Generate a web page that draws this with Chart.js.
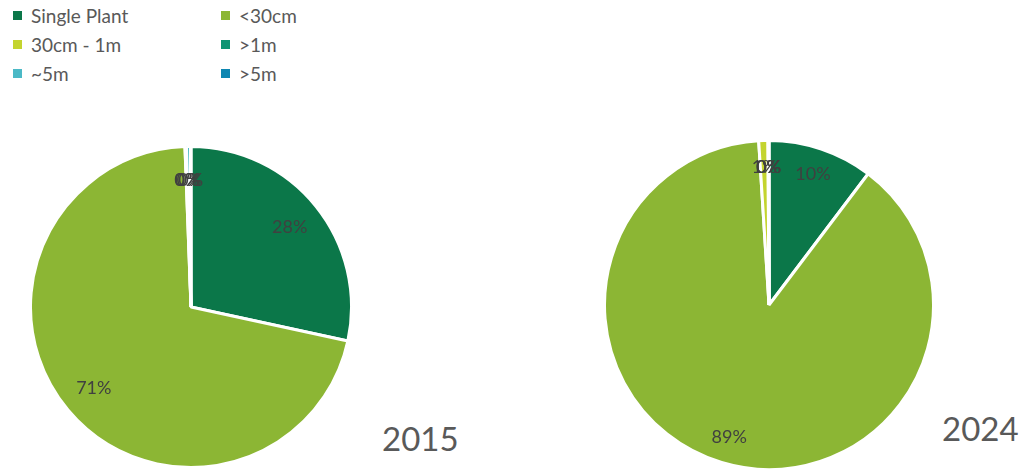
<!DOCTYPE html>
<html>
<head>
<meta charset="utf-8">
<script src="https://cdn.jsdelivr.net/npm/chart.js@4"></script>
<style>
  body { margin: 0; background: #fff; width: 1024px; height: 470px; overflow: hidden; position: relative; font-family: Lato, "Open Sans", sans-serif; }
  #legend { position: absolute; left: 11px; top: 4px; display: grid; grid-template-columns: 208px 120px; row-gap: 7px; }
  .item { display: flex; align-items: center; font-size: 19px; color: #595959; height: 22px; }
  .box { width: 9px; height: 9px; margin-right: 9px; margin-left: 2px; }
  .wrap { position: absolute; }
  .year { position: absolute; font-size: 33px; color: #595959; }
</style>
</head>
<body>
<div id="legend"></div>
<div class="wrap" style="left:29px; top:145px; width:324px; height:324px;"><canvas id="pie2015"></canvas></div>
<div class="wrap" style="left:603px; top:139px; width:332px; height:332px;"><canvas id="pie2024"></canvas></div>
<div class="year" style="left:382px; top:418px;">2015</div>
<div class="year" style="left:942px; top:408px;">2024</div>
<script>
const categories = ["Single Plant", "<30cm", "30cm - 1m", ">1m", "~5m", ">5m"];
const colours = ["#0B7749", "#8CB634", "#C4D42F", "#0E9473", "#4BB9C6", "#0E86B1"];
const values_2015 = [28.4, 71.0, 0.1, 0.05, 0.4, 0.05];
const values_2024 = [10.3, 88.7, 0.9, 0.05, 0.03, 0.02];

const legend = document.getElementById("legend");
categories.forEach((name, i) =>
{
    const item = document.createElement("div");
    item.className = "item";
    const box = document.createElement("span");
    box.className = "box";
    box.style.background = colours[i];
    item.appendChild(box);
    item.appendChild(document.createTextNode(name));
    legend.appendChild(item);
});

// percentage labels inside each slice
const slice_labels =
{
    id: "slice_labels",
    afterDatasetsDraw(chart, args, opts)
    {
        const ctx = chart.ctx;
        const meta = chart.getDatasetMeta(0);
        const data = chart.data.datasets[0].data;
        const total = data.reduce((a, b) => a + b, 0);
        ctx.save();
        ctx.font = "18px Lato, 'Open Sans', sans-serif";
        ctx.fillStyle = "#404040";
        ctx.textAlign = "center";
        ctx.textBaseline = "middle";
        meta.data.forEach((arc, i) =>
        {
            const p = arc.getProps(["x", "y", "startAngle", "endAngle", "outerRadius"], true);
            const mid = (p.startAngle + p.endAngle) / 2;
            const r = p.outerRadius * opts.factor;
            const text = Math.round(data[i] / total * 100) + "%";
            ctx.fillText(text, p.x + Math.cos(mid) * r, p.y + Math.sin(mid) * r);
        });
        ctx.restore();
    }
};

function make_pie(id, values, factor)
{
    return new Chart(id,
    {
        type: "pie",
        data:
        {
            labels: categories,
            datasets:
            [
                {
                    data: values,
                    backgroundColor: colours,
                    borderColor: "#ffffff",
                    borderWidth: 3
                }
            ]
        },
        options:
        {
            animation: false,
            responsive: true,
            maintainAspectRatio: false,
            plugins:
            {
                legend: { display: false },
                tooltip: { enabled: false },
                slice_labels: { factor: factor }
            }
        },
        plugins: [slice_labels]
    });
}

make_pie("pie2015", values_2015, 0.79);
make_pie("pie2024", values_2024, 0.84);
</script>
</body>
</html>
